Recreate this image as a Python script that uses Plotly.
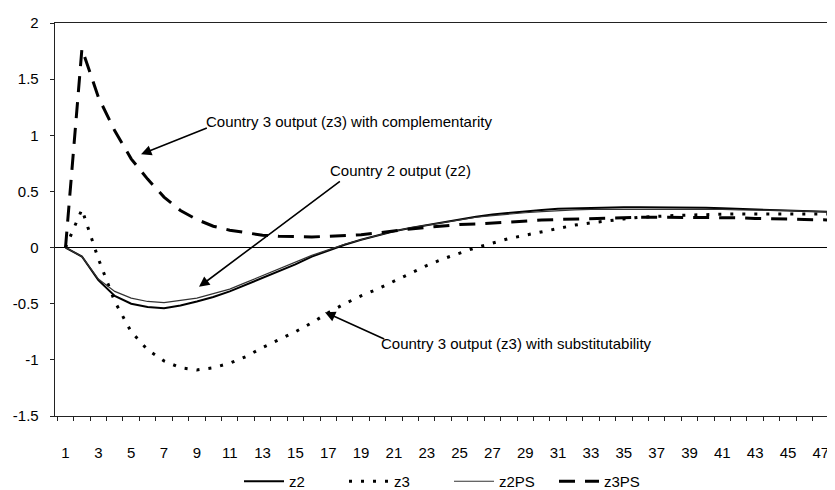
import plotly.graph_objects as go

periods = list(range(1, 49))

z2 = [0, -0.08, -0.29, -0.43, -0.50, -0.53, -0.54, -0.515, -0.48, -0.44,
      -0.39, -0.33, -0.27, -0.21, -0.15, -0.08, -0.025, 0.025, 0.07, 0.11,
      0.145, 0.175, 0.2, 0.225, 0.255, 0.275, 0.295, 0.31, 0.325, 0.335,
      0.345, 0.35, 0.355, 0.36, 0.36, 0.36, 0.36, 0.36, 0.355, 0.355,
      0.35, 0.345, 0.34, 0.335, 0.33, 0.325, 0.32, 0.315]

z3 = [0, 0.34, -0.1, -0.48, -0.75, -0.91, -1.01, -1.07, -1.09, -1.07,
      -1.03, -0.97, -0.89, -0.82, -0.75, -0.67, -0.58, -0.50, -0.43, -0.37,
      -0.30, -0.23, -0.16, -0.10, -0.05, 0.0, 0.04, 0.08, 0.11, 0.14,
      0.17, 0.2, 0.22, 0.24, 0.255, 0.27, 0.28, 0.285, 0.29, 0.295,
      0.3, 0.3, 0.3, 0.3, 0.3, 0.3, 0.3, 0.3]

z2PS = [0, -0.08, -0.28, -0.39, -0.45, -0.48, -0.49, -0.47, -0.45, -0.41,
        -0.37, -0.31, -0.25, -0.19, -0.13, -0.07, -0.02, 0.03, 0.07, 0.11,
        0.145, 0.175, 0.2, 0.225, 0.25, 0.27, 0.285, 0.3, 0.31, 0.32,
        0.33, 0.335, 0.34, 0.34, 0.345, 0.345, 0.345, 0.345, 0.34, 0.34,
        0.34, 0.335, 0.335, 0.33, 0.33, 0.325, 0.32, 0.315]

z3PS = [0, 1.77, 1.34, 1.04, 0.79, 0.61, 0.45, 0.33, 0.25, 0.19,
        0.155, 0.13, 0.11, 0.1, 0.095, 0.095, 0.1, 0.105, 0.115, 0.13,
        0.15, 0.165, 0.18, 0.195, 0.205, 0.21, 0.22, 0.225, 0.235, 0.245,
        0.25, 0.255, 0.26, 0.265, 0.27, 0.27, 0.27, 0.27, 0.27, 0.27,
        0.265, 0.265, 0.26, 0.26, 0.255, 0.25, 0.25, 0.245]

x_tick_vals = list(range(1, 48, 2))
x_tick_text = [str(v) for v in x_tick_vals]
y_tick_vals = [2, 1.5, 1, 0.5, 0, -0.5, -1, -1.5]
y_tick_text = ["2", "1.5", "1", "0.5", "0", "-0.5", "-1", "-1.5"]

FONT = "Arial, 'Liberation Sans', sans-serif"
PAD = "\u00a0\u00a0"

fig = go.Figure()
fig.add_trace(go.Scatter(x=periods, y=z2, name="z2", mode="lines",
                         line=dict(color="black", width=2)))
fig.add_trace(go.Scatter(x=periods, y=z3, name="z3", mode="lines",
                         line=dict(color="black", width=3, dash="3px,9px")))
fig.add_trace(go.Scatter(x=periods, y=z2PS, name="z2PS", mode="lines",
                         line=dict(color="#333333", width=1.2)))
fig.add_trace(go.Scatter(x=periods, y=z3PS, name="z3PS", mode="lines",
                         line=dict(color="black", width=3, dash="16px,10px")))

arrows = [
    # (tip x, tip y, tail x, tail y)
    (5.6, 0.83, 9.7, 1.07),
    (9.13, -0.35, 17.8, 0.6),
    (16.8, -0.575, 20.5, -0.82),
]
for tx, ty, sx, sy in arrows:
    fig.add_annotation(x=tx, y=ty, ax=sx, ay=sy, xref="x", yref="y",
                       axref="x", ayref="y", text="", showarrow=True,
                       arrowhead=2, arrowsize=1.3, arrowwidth=1.6,
                       arrowcolor="black")

labels = [
    (9.45, 1.12, "Country 3 output (z3) with complementarity"),
    (17.0, 0.69, "Country 2 output (z2)"),
    (20.1, -0.85, "Country 3 output (z3) with substitutability"),
]
for lx, ly, txt in labels:
    fig.add_annotation(x=lx, y=ly, xref="x", yref="y", text=txt,
                       showarrow=False, xanchor="left", yanchor="middle",
                       font=dict(family=FONT, size=15, color="black"))

fig.update_layout(
    width=835, height=490,
    margin=dict(l=47, r=0, t=15, b=67),
    paper_bgcolor="white", plot_bgcolor="white",
    font=dict(family=FONT, size=15, color="black"),
    showlegend=True,
    legend=dict(orientation="h", x=0.5, xanchor="center", y=-0.125,
                yanchor="top", font=dict(size=15), itemwidth=40,
                entrywidth=50, entrywidthmode="pixels",
                traceorder="normal", tracegroupgap=0,
                bgcolor="rgba(0,0,0,0)"),
)
fig.update_xaxes(range=[0.36, 48.35], tickmode="array",
                 tickvals=x_tick_vals, ticktext=x_tick_text,
                 ticks="", showgrid=False, zeroline=False,
                 showline=True, linecolor="#222222", linewidth=1,
                 mirror=True, ticklabelstandoff=23, automargin=False,
                 minor=dict(tickmode="linear", tick0=0.5, dtick=1,
                            ticks="outside", ticklen=4, tickcolor="#222222",
                            showgrid=False))
fig.update_yaxes(range=[-1.5, 2], tickmode="array",
                 tickvals=y_tick_vals,
                 ticktext=[t + PAD for t in y_tick_text],
                 ticks="outside", ticklen=4, tickcolor="#222222",
                 automargin=False,
                 showgrid=False, zeroline=True, zerolinecolor="black",
                 zerolinewidth=1, showline=True, linecolor="#222222",
                 linewidth=1)

fig.write_html("out.html")
